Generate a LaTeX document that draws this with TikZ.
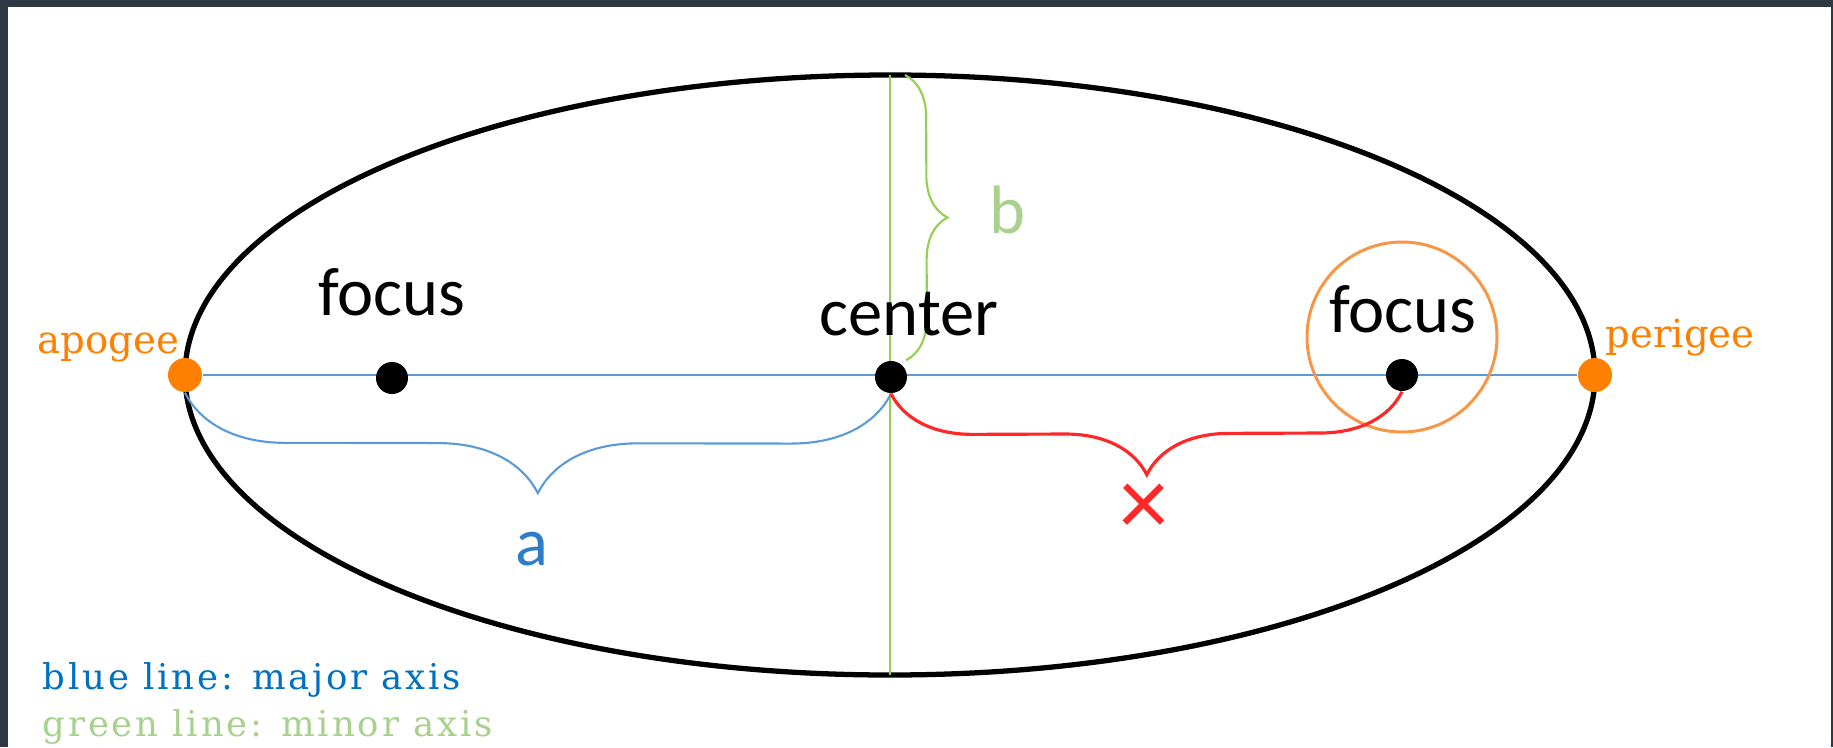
\documentclass[tikz,border=0pt]{standalone}
\usepackage{fontspec}
\setmainfont{Carlito}
\newfontfamily\slabfont{DejaVu Serif}
\newfontfamily\slabwide[LetterSpace=8]{DejaVu Serif}
\usepackage{xcolor}
\usepackage{tikz}
\usetikzlibrary{calc,decorations.pathreplacing}
\definecolor{frame}{RGB}{46,56,66}
\definecolor{axisblue}{RGB}{91,155,213}
\definecolor{labelblue}{RGB}{46,125,200}
\definecolor{keyblue}{RGB}{0,112,192}
\definecolor{axisgreen}{RGB}{146,208,80}
\definecolor{keygreen}{RGB}{169,209,142}
\definecolor{apsorange}{RGB}{255,127,0}
\definecolor{ringorange}{RGB}{247,150,70}
\definecolor{xred}{RGB}{255,40,40}

\begin{document}
\begin{tikzpicture}[
  dot/.style={circle, fill=black, minimum size=0.32cm, inner sep=0pt},
  apsis/.style={circle, fill=apsorange, minimum size=0.34cm, inner sep=0pt},
  lbl/.style={font=\fontsize{19.5}{23}\selectfont, anchor=base},
  apslbl/.style={font=\slabfont\fontsize{11}{13}\selectfont, text=apsorange, anchor=base west, inner sep=0pt},
  keylbl/.style={font=\slabwide\fontsize{10.1}{12}\selectfont, anchor=base west, inner sep=0pt},
  brc/.style={decorate, decoration={brace, amplitude=#1}}
]
\fill[frame] (-8.90,-3.72) rectangle (9.43,3.75);
\fill[white] (-8.82,-3.72) rectangle (9.41,3.68);
\useasboundingbox (-8.90,-3.72) rectangle (9.43,3.75);
% orbit and axes
\draw[line width=1.5pt] (0,0) ellipse [x radius=7.05, y radius=3.0];
\coordinate (top) at (0,3.0);
\coordinate (bot) at (0,-3.0);
\node[apsis] (ap) at (-7.05,0) {};
\node[apsis] (pe) at (7.05,0) {};
\draw[axisblue, line width=0.6pt] (ap) -- (pe);
\draw[axisgreen, line width=0.6pt] (top) -- (bot);
\node[draw=ringorange, circle, minimum size=1.9cm, line width=0.85pt] (ring) at (5.12,0.38) {};
\node[dot] (fl) at (-4.98,-0.03) {};
\node[dot] (ce) at (0.01,-0.02) {};
\node[dot] (fr) at (5.12,0) {};
% braces
\draw[axisblue, line width=0.6pt, brc=1cm] (ce.south) -- (ap.south);
\draw[xred, line width=0.9pt, brc=0.82cm] (fr.south) -- (ce.south);
\draw[axisgreen, line width=0.6pt, brc=0.42cm] ([xshift=0.15cm]top) -- ([xshift=0.15cm]ce.north);
% labels
\node[lbl] (flt) at (-4.98,0.60) {focus};
\node[lbl] (cet) at (0.19,0.40) {center};
\node[lbl] (frt) at (5.13,0.43) {focus};
\node[lbl, text=labelblue] (at) at (-3.58,-1.90) {a};
\node[lbl, text=keygreen] (bt) at (1.18,1.42) {b};
\node[font=\fontsize{28}{30}\selectfont, text=xred] (xt) at (2.54,-1.35) {×};
\node[apslbl] (apt) at (-8.53,0.22) {apogee};
\node[apslbl] (pet) at (7.15,0.28) {perigee};
\node[keylbl, text=keyblue] (k1) at (-8.48,-3.14) {blue line: major axis};
\node[keylbl, text=keygreen] (k2) at (-8.48,-3.61) {green line: minor axis};
\end{tikzpicture}
\end{document}
